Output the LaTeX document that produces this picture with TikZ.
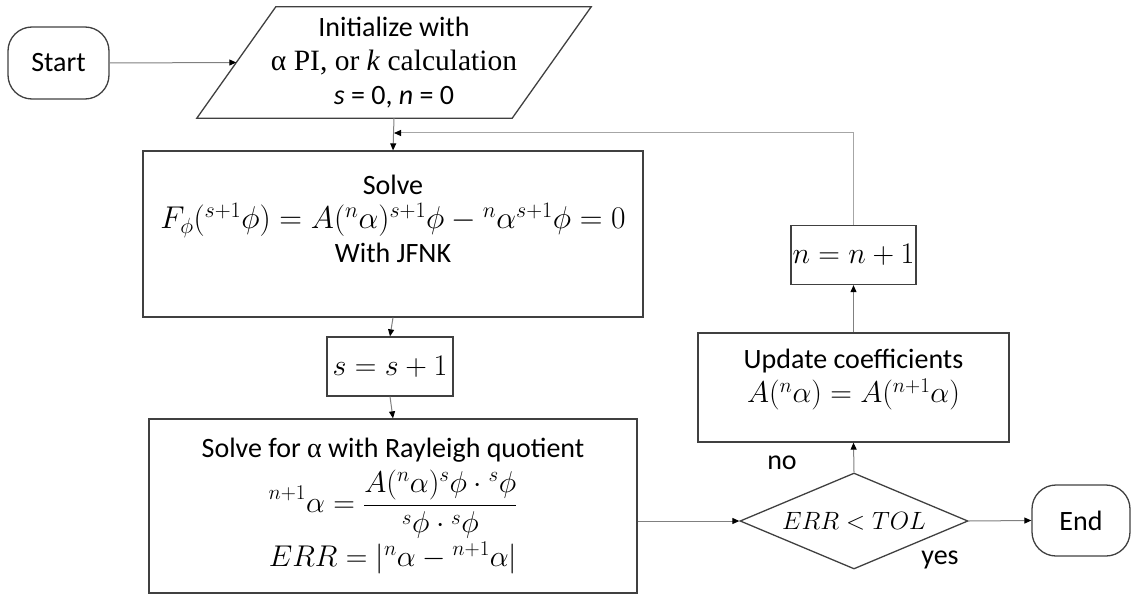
\RequirePackage{fix-cm}
\documentclass[tikz,border=0pt]{standalone}
\usepackage{fontspec}
\setmainfont{Carlito}
\newfontfamily\serifgr{Liberation Serif}
\usetikzlibrary{arrows.meta,shapes.geometric,calc}
\definecolor{boxc}{HTML}{404040}
\definecolor{connc}{HTML}{808080}
\definecolor{fbc}{HTML}{A6A6A6}
\newcommand{\mth}[1]{{\fontsize{30}{36}\selectfont$#1$}}
\begin{document}
\begin{tikzpicture}[x=1pt,y=-1pt,
  boxline/.style={draw=boxc, line width=1.3pt},
  conn/.style={draw=connc, line width=1pt, -{Triangle[length=7pt,width=6pt,color=black]}},
  txt/.style={font=\fontsize{28}{34}\selectfont, align=center, inner sep=0pt}]
\useasboundingbox (0,0) rectangle (1131,596);
% nodes
\node[boxline, txt, rounded corners=24pt, minimum width=101pt, minimum height=72pt] (start) at (58.5,63) {Start};
\node[txt, minimum width=315pt, minimum height=111pt] (init) at (394,62.5) {Initialize with\\{\serifgr\fontsize{29.5}{34}\selectfont α PI, or \textit{k} calculation}\\\textit{s} = 0, \textit{n} = 0};
\draw[boxline] ($(init.south west)+(-39.5,0)$) -- ($(init.north west)+(39.5,0)$) -- ($(init.north east)+(39.5,0)$) -- ($(init.south east)+(-39.5,0)$) -- cycle;
\node[boxline, minimum width=500pt, minimum height=166pt] (solve) at (393,234) {};
\node[txt] (solvetxt) at (393,219) {Solve\\ {\fontsize{31.5}{36}\selectfont$F_{\phi}({}^{s+1}\phi) = A({}^{n}\alpha)^{s+1}\phi - {}^{n}\alpha^{s+1}\phi = 0$}\\ With JFNK};
\node[boxline, txt, minimum width=126pt, minimum height=59pt] (sbox) at (390,366.5) {\mth{s = s + 1}};
\node[boxline, txt, minimum width=488pt, minimum height=174pt] (ray) at (393,506) {Solve for {\serifgr α} with Rayleigh quotient\\[6pt] \mth{\displaystyle {}^{n+1}\alpha = \frac{A({}^{n}\alpha)^{s}\phi\cdot{}^{s}\phi}{{}^{s}\phi\cdot{}^{s}\phi}}\\[2pt] \mth{ERR = |{}^{n}\alpha - {}^{n+1}\alpha|}};
\node[diamond, boxline, txt, aspect=2.375, minimum width=228pt, minimum height=96pt] (dia) at (854,521) {{\fontsize{25}{30}\selectfont$ERR < TOL$}};
\node[boxline, minimum width=311pt, minimum height=109pt] (update) at (853.5,387.5) {};
\node[txt] (updtxt) at (853.5,380) {Update coefficients\\ \mth{A({}^{n}\alpha) = A({}^{n+1}\alpha)}};
\node[boxline, txt, minimum width=125pt, minimum height=59pt] (nbox) at (853.5,255) {\mth{n = n + 1}};
\node[boxline, txt, rounded corners=24pt, minimum width=98pt, minimum height=71pt] (endn) at (1081,520.5) {End};
\node[txt] (no) at (782,463) {no};
\node[txt] (yes) at (940,560) {yes};
\coordinate (fb) at (853.5,133);
% connectors
\draw[conn] (start.east) -- (init.west);
\draw[conn] (init.south) -- (solve.north);
\draw[conn, draw=fbc] (nbox.north) |- (init.south |- fb);
\draw[conn] (solve.south) -- (sbox.north);
\draw[conn] (sbox.south) -- (ray.north);
\draw[conn] (ray.east |- dia.west) -- (dia.west);
\draw[conn] (dia.north) -- (update.south);
\draw[conn] (update.north) -- (nbox.south);
\draw[conn] (dia.east) -- (endn.west);
\end{tikzpicture}
\end{document}
